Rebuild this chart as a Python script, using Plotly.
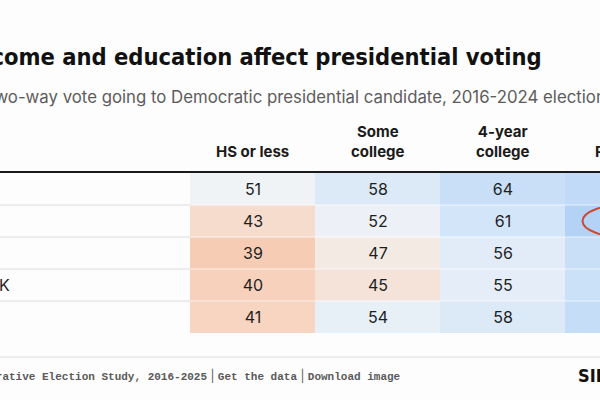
import plotly.graph_objects as go

# ---- data ----
columns = ["HS or less", "Some<br>college", "4-year<br>college", "Postgrad"]
rows = ["Under $30K", "$30K–$50K", "$50K–$100K", "$100K–$200K", "$200K+"]
hs_or_less = [51, 43, 39, 40, 41]
some_college = [58, 52, 47, 45, 54]
four_year = [64, 61, 56, 55, 58]
postgrad = [66, 70, 64, 63, 65]

title = "How income and education affect presidential voting"
subtitle = "Share of two-way vote going to Democratic presidential candidate, 2016-2024 elections"
source = "Source: Cooperative Election Study, 2016-2025"
links = ["Get the data", "Download image"]
brand = "SILVER BULLETIN"

W, H = 600, 400
CELL_W = 125
FIRST_CENTER = 252.5
TOP, BOTTOM = 173, 333

z = [[hs_or_less[i], some_college[i], four_year[i], postgrad[i]] for i in range(len(rows))]
xs = list(range(len(columns)))
ys = list(range(len(rows)))

colorscale = [
    [0.0, "#efa37c"],
    [0.25, "#f7d1bb"],
    [0.5, "#f3f4f6"],
    [0.75, "#d6e7f9"],
    [1.0, "#b3d2f5"],
]

def px_to_x(px):
    return (px - FIRST_CENTER) / CELL_W

def col_paper(j):
    return (FIRST_CENTER + j * CELL_W) / W

def py(px):
    return 1 - px / H

fig = go.Figure(go.Heatmap(
    z=z, x=xs, y=ys, zmin=30, zmax=70, colorscale=colorscale, showscale=False,
    texttemplate="%{z}", textfont=dict(size=16, color="#1e1e1e", family="Inter"),
    hoverinfo="skip", xgap=0, ygap=0,
))

shapes = []
# row separators
for i in range(len(rows) - 1):
    shapes.append(dict(type="line", xref="x", yref="y", x0=px_to_x(-200), x1=-0.5,
                       y0=i + 0.5, y1=i + 0.5, line=dict(color="#e6e6e6", width=1.5), layer="above"))
    shapes.append(dict(type="line", xref="x", yref="y", x0=-0.5, x1=len(columns) - 0.5,
                       y0=i + 0.5, y1=i + 0.5, line=dict(color="rgba(255,255,255,0.45)", width=1.5), layer="above"))
# header rule
shapes.append(dict(type="line", xref="paper", yref="paper", x0=-0.1, x1=1.1, y0=py(172), y1=py(172),
                   line=dict(color="#1a1a1a", width=2)))
# footer rule
shapes.append(dict(type="line", xref="paper", yref="paper", x0=-0.1, x1=1.1, y0=py(357), y1=py(357),
                   line=dict(color="#ececec", width=2)))
# highlight ellipse around postgrad / row 2
hc, hr = 3, 1
shapes.append(dict(type="circle", xref="x", yref="y", x0=hc - 0.36, x1=hc + 0.36,
                   y0=hr - 0.52, y1=hr + 0.52, line=dict(color="#c94a35", width=2), layer="above"))

annotations = []
# title & subtitle
annotations.append(dict(text=title, xref="paper", yref="paper",
                        x=544 / W, y=py(57), xanchor="right",
                        yanchor="middle", showarrow=False,
                        font=dict(family="DejaVu Sans Condensed, sans-serif", size=23.5,
                                  color="#111111", weight="bold")))
annotations.append(dict(text=subtitle, xref="paper", yref="paper", x=-85 / W, y=py(97), xanchor="left",
                        yanchor="middle", showarrow=False,
                        font=dict(family="Inter", size=16.8, color="#5c5c5c")))
# column headers
for j, c in enumerate(columns):
    annotations.append(dict(text="<b>" + c + "</b>", xref="paper", yref="paper", x=col_paper(j), y=py(163),
                            xanchor="center", yanchor="bottom", showarrow=False,
                            font=dict(family="Inter", size=15, color="#1a1a1a")))
# row labels
for i, r in enumerate(rows):
    annotations.append(dict(text=r, xref="paper", yref="y", x=-99 / W, y=ys[i], xanchor="left",
                            yanchor="middle", showarrow=False,
                            font=dict(family="Inter", size=16, color="#1e1e1e")))
# footer
sep = '<span style="font-family:Inter;font-size:12px;font-weight:400">&nbsp;|&nbsp;</span>'
footer = source + sep + sep.join(links)
annotations.append(dict(text=footer, xref="paper", yref="paper", x=403 / W, y=py(375), xanchor="right",
                        yanchor="middle", showarrow=False,
                        font=dict(family="Liberation Mono, DejaVu Sans Mono, monospace", size=11,
                                  color="#5a5a5a", weight="bold")))
annotations.append(dict(text=brand, xref="paper", yref="paper",
                        x=576 / W, y=py(375), xanchor="left",
                        yanchor="middle", showarrow=False,
                        font=dict(family="DejaVu Sans Condensed, sans-serif", size=18,
                                  color="#111111", weight="bold")))

fig.update_layout(
    width=W, height=H,
    margin=dict(l=0, r=0, t=0, b=0),
    paper_bgcolor="#fdfdfd", plot_bgcolor="#fdfdfd",
    xaxis=dict(range=[px_to_x(0), px_to_x(W)], domain=[0, 1], showticklabels=False, showgrid=False,
               zeroline=False, ticks="", fixedrange=True),
    yaxis=dict(range=[len(rows) - 0.5, -0.5], domain=[py(BOTTOM), py(TOP)], showticklabels=False,
               showgrid=False, zeroline=False, ticks="", fixedrange=True),
    shapes=shapes, annotations=annotations, showlegend=False,
)

fig.write_html("out.html", config={"displayModeBar": False},
               post_script="document.body.style.margin='0';document.body.style.background='#fdfdfd';")
